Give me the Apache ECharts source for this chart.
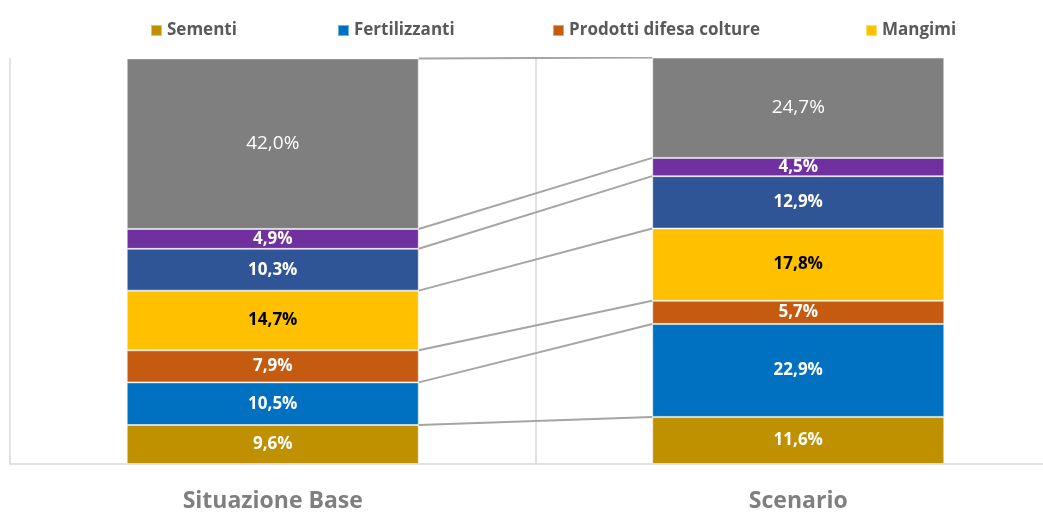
<!DOCTYPE html>
<html>
<head>
<meta charset="utf-8">
<script src="https://cdn.jsdelivr.net/npm/echarts@6/dist/echarts.min.js"></script>
<style>
  html, body { margin: 0; padding: 0; background: #fff; }
  #chart { width: 1043px; height: 513px; }
</style>
</head>
<body>
<div id="chart"></div>
<script>
// dati (quote % sul totale)
var categories = ['Situazione Base', 'Scenario'];
var seriesNames = ['Sementi', 'Fertilizzanti', 'Prodotti difesa colture', 'Mangimi', 'Energia', 'Servizi', 'Altro'];
var sementi = [9.6, 11.6];
var fertilizzanti = [10.5, 22.9];
var difesa = [7.9, 5.7];
var mangimi = [14.7, 17.8];
var energia = [10.3, 12.9];
var servizi = [4.9, 4.5];
var altro = [42.0, 24.7];

var colors = ['#BF9000', '#0070C0', '#C55A11', '#FFC000', '#2F5597', '#7030A0', '#7F7F7F'];
var labelColors = ['#fff', '#fff', '#fff', '#000', '#fff', '#fff', '#fff'];
var values = [sementi, fertilizzanti, difesa, mangimi, energia, servizi, altro];

var gridLeft = 10, gridRight = -18;
var gridW = 1043 - gridLeft - gridRight;
var barW = 292;
var half = (barW / 2) / (gridW / 2); // mezza barra in unità di categoria

var chart = echarts.init(document.getElementById('chart'));

function fmt(v) {
  return v.toFixed(1).replace('.', ',') + '%';
}

var series = [];
values.forEach(function (arr, i) {
  var last = i === values.length - 1;
  series.push({
    name: seriesNames[i],
    type: 'bar',
    stack: 'tot',
    barWidth: barW,
    data: arr,
    itemStyle: { color: colors[i], borderColor: 'rgba(255,255,255,0.45)', borderWidth: 1 },
    label: {
      show: true,
      position: 'inside',
      color: labelColors[i],
      fontFamily: 'Open Sans',
      fontWeight: last ? 'normal' : 'bold',
      fontSize: last ? 19 : 17,
      formatter: function (p) { return fmt(p.value); }
    },
    z: 3
  });
});

// linee di collegamento tra le barre (cumulati)
var cum = [0, 0];
values.forEach(function (arr, i) {
  cum = [cum[0] + arr[0], cum[1] + arr[1]];
  series.push({
    name: 'linea' + i,
    type: 'line',
    xAxisIndex: 1,
    symbol: 'none',
    silent: true,
    lineStyle: { color: '#A5A5A5', width: 2 },
    data: [[0.5 + half, cum[0]], [1.5 - half, cum[1]]],
    z: 2
  });
});

function legendAt(name, left) {
  return {
    data: [name],
    left: left,
    top: 17,
    icon: 'rect',
    itemWidth: 11,
    itemHeight: 11,
    textStyle: { color: '#595959', fontSize: 17, fontWeight: 'bold', fontFamily: 'Open Sans' },
    selectedMode: false
  };
}

var option = {
  backgroundColor: '#fff',
  animation: false,
  legend: [
    legendAt('Sementi', 145),
    legendAt('Fertilizzanti', 332),
    legendAt('Prodotti difesa colture', 547),
    legendAt('Mangimi', 860)
  ],
  grid: { left: gridLeft, right: gridRight, top: 58, bottom: 49, outerBoundsMode: 'none', containLabel: false },
  xAxis: [
    {
      type: 'category',
      data: categories,
      axisLine: { show: true, lineStyle: { color: '#D9D9D9', width: 1.5 } },
      axisTick: { show: false },
      splitLine: { show: true, lineStyle: { color: '#D9D9D9', width: 1.5 } },
      axisLabel: { color: '#7F7F7F', fontSize: 23, fontWeight: 'bold', fontFamily: 'Open Sans', margin: 26 }
    },
    {
      type: 'value',
      min: 0,
      max: 2,
      show: false
    }
  ],
  yAxis: {
    type: 'value',
    min: 0,
    max: 100,
    axisLine: { show: false },
    axisTick: { show: false },
    axisLabel: { show: false },
    splitLine: { show: false }
  },
  series: series
};

chart.setOption(option);
</script>
</body>
</html>
